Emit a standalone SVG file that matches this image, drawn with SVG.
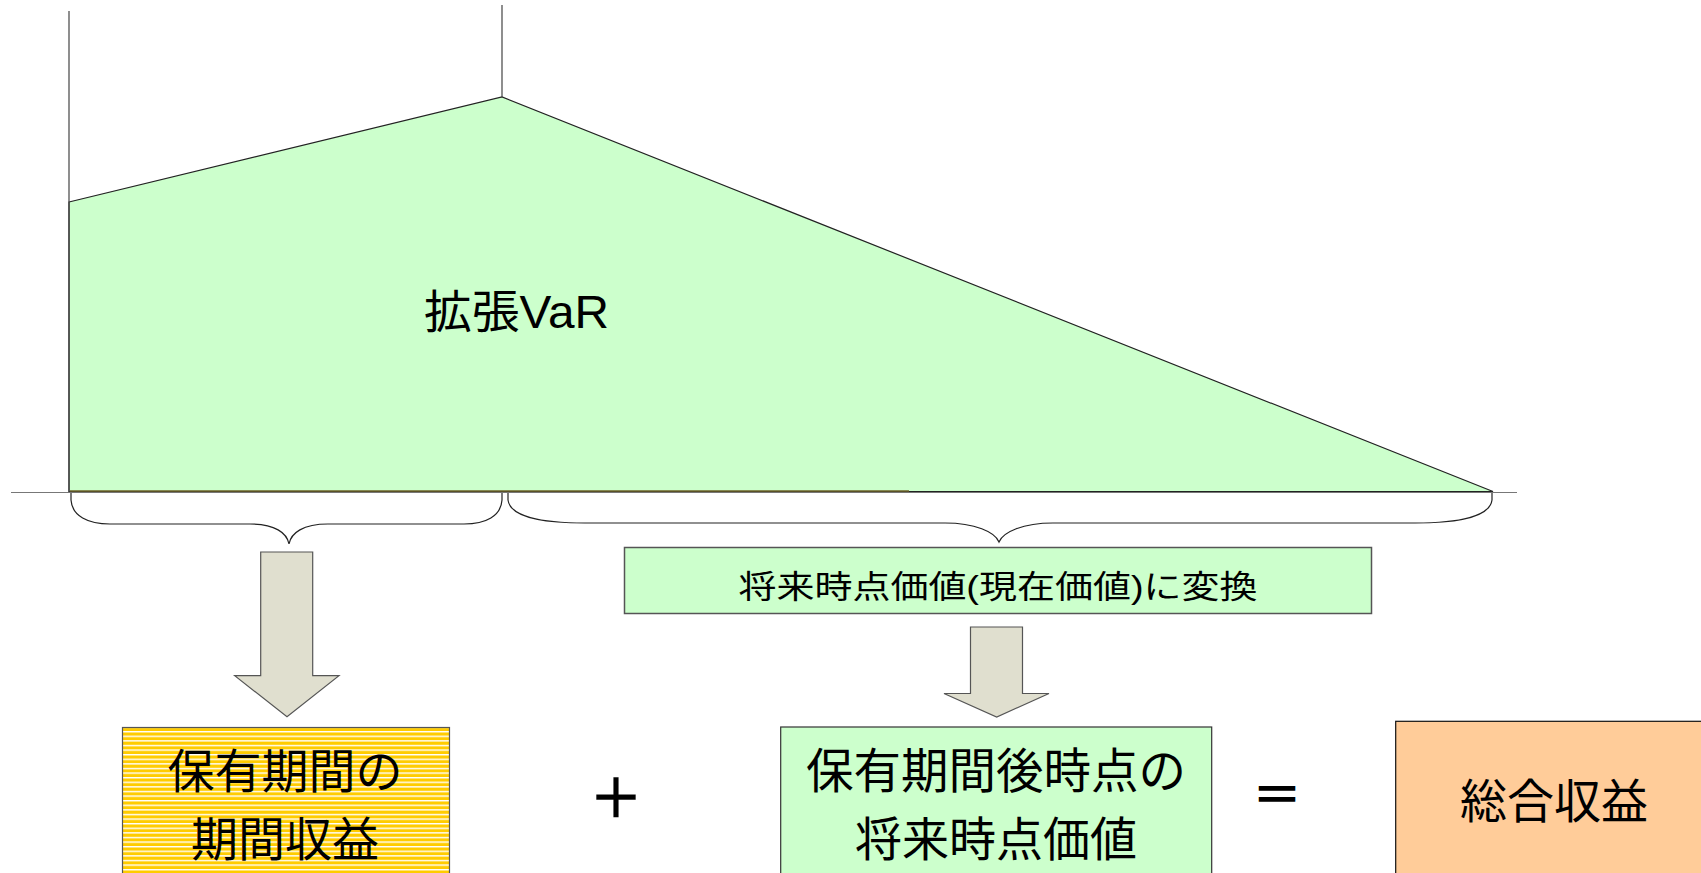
<svg xmlns="http://www.w3.org/2000/svg" width="1701" height="873" viewBox="0 0 1701 873">
  <defs>
    <pattern id="stripes" patternUnits="userSpaceOnUse" x="0" y="731" width="10" height="4.6">
      <rect x="0" y="0" width="10" height="4.6" fill="#FFCC00"/>
      <rect x="0" y="0" width="10" height="1.4" fill="#FFFFFF"/>
    </pattern>
  </defs>
  <style>
    .t { font-family: "Liberation Sans", "Noto Sans CJK JP", sans-serif; fill: #000; font-weight: normal; }
    .big { font-size: 47px; }
    .op { stroke: #000; stroke-width: 1.6; }
    .arrow { fill: #E0DFCF; stroke: #555; stroke-width: 1.2; }
    .brace { fill: none; stroke: #222; stroke-width: 1.2; }
    .vline { stroke: #444; stroke-width: 1.2; }
  </style>
  <rect x="0" y="0" width="1701" height="873" fill="#FFFFFF"/>

  <g id="chart">
    <polygon points="69,202 502,97 1493,491.5 69,491.5" fill="#CCFFCC" stroke="#222" stroke-width="1.2"/>
    <line x1="69" y1="11" x2="69" y2="492" class="vline"/>
    <line x1="502" y1="5" x2="502" y2="97" class="vline"/>
    <line x1="11" y1="492.5" x2="1517" y2="492.5" stroke="#777" stroke-width="1.2"/>
    <line x1="70" y1="491" x2="909" y2="491" stroke="#6E6228" stroke-width="1.6"/>
    <text id="label-var" class="t" x="424" y="312" font-size="46" dominant-baseline="central" textLength="185" lengthAdjust="spacingAndGlyphs">拡張VaR</text>
  </g>

  <g id="connectors">
    <path class="brace" d="M71,493 L71,500 C72,516 88,524 110,524 L250,524 C275,524 287,533 289,544 C291,533 303,524 328,524 L464,524 C486,524 501,516 502,500 L502,493"/>
    <path class="brace" d="M508,493 L508,500 C510,516 540,523 585,523 L945,523 C975,523 995,532 999,542 C1003,532 1023,523 1053,523 L1415,523 C1460,523 1490,516 1492,500 L1492,493"/>
    <polygon id="arrow-left" class="arrow" points="260.7,552 312.7,552 312.7,675.7 339,675.7 287,716.7 234.7,675.7 260.7,675.7"/>
    <polygon id="arrow-mid" class="arrow" points="970.5,627 1022.5,627 1022.5,693.5 1049,693.5 996.7,717 944,693.5 970.5,693.5"/>
  </g>

  <g id="node-convert">
    <rect x="624.5" y="547.5" width="747" height="66" fill="#CCFFCC" stroke="#555" stroke-width="1.5"/>
    <text class="t" x="998" y="587" font-size="32" text-anchor="middle" dominant-baseline="central" textLength="519" lengthAdjust="spacingAndGlyphs">将来時点価値(現在価値)に変換</text>
  </g>

  <g id="node-period">
    <rect x="122.5" y="727.5" width="327" height="160" fill="url(#stripes)" stroke="#555" stroke-width="1.2"/>
    <text class="t big" x="285" y="771" text-anchor="middle" dominant-baseline="central">保有期間の</text>
    <text class="t big" x="285" y="839" text-anchor="middle" dominant-baseline="central">期間収益</text>
  </g>

  <g id="plus">
    <text class="t op" x="616" y="799" font-size="52" text-anchor="middle" dominant-baseline="central">＋</text>
  </g>

  <g id="node-future">
    <rect x="780.7" y="727" width="431" height="160" fill="#CCFFCC" stroke="#333" stroke-width="1.2"/>
    <text class="t" x="996" y="771" font-size="47.5" text-anchor="middle" dominant-baseline="central">保有期間後時点の</text>
    <text class="t big" x="996" y="839" text-anchor="middle" dominant-baseline="central">将来時点価値</text>
  </g>

  <g id="equals">
    <text class="t op" x="1277" y="795" font-size="48" text-anchor="middle" dominant-baseline="central">＝</text>
  </g>

  <g id="node-total">
    <rect x="1395.7" y="721.3" width="320" height="170" fill="#FFCC99" stroke="#111" stroke-width="1.2"/>
    <text class="t big" x="1554" y="801" text-anchor="middle" dominant-baseline="central">総合収益</text>
  </g>
</svg>
